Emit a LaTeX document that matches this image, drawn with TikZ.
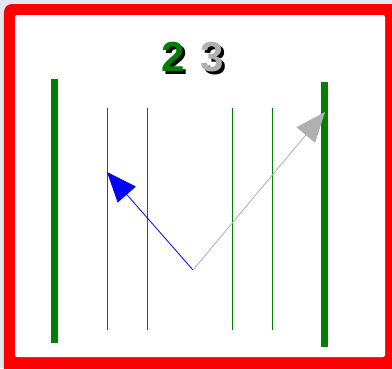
\documentclass[tikz,border=0pt]{standalone}
\usepackage{fontspec}
\setmainfont{Liberation Sans}
\usetikzlibrary{arrows.meta}
\definecolor{canvas}{RGB}{226,232,240}
\definecolor{grn}{RGB}{0,128,0}
\definecolor{gry}{RGB}{176,176,176}
\newcommand{\shadowed}[2]{\makebox[0pt][l]{\hspace{3pt}\raisebox{-3pt}{\color{black}#2}}\textcolor{#1}{#2}}
\begin{document}
\begin{tikzpicture}[x=1pt,y=-1pt,
  thick green/.style={draw=grn,line width=7pt},
  thin green/.style={draw=grn,line width=0.8pt},
  bigarrow/.style={-{Triangle[length=30pt,width=24pt]},line width=0.8pt},
  digit/.style={font=\bfseries\fontsize{42}{42}\selectfont,inner sep=0pt}]
\useasboundingbox (0,0) rectangle (392,368);
\fill[canvas] (0,0) rectangle (392,368);
\fill[red,rounded corners=8pt] (4,4) rectangle (420,400);
\fill[white,rounded corners=2pt] (15,15) rectangle (385,357);
% thick green lines
\draw[thick green] (54,79) -- (54,343);
\draw[thick green] (324.5,82) -- (324.5,347);
% thin green lines
\foreach \x in {107,147,232,272}{\draw[thin green] (\x,108) -- (\x,330);}
% arrows
\coordinate (o) at (193,270);
\coordinate (b) at (107,172);
\coordinate (g) at (325,112);
\draw[bigarrow,blue] (o) -- (b);
\draw[bigarrow,gry] (o) -- (g);
% digits with shadow
\node[digit] (d2) at (173.5,58.5) {\shadowed{grn}{2}};
\node[digit] (d3) at (212.5,58.5) {\shadowed{gry}{3}};
\end{tikzpicture}
\end{document}
